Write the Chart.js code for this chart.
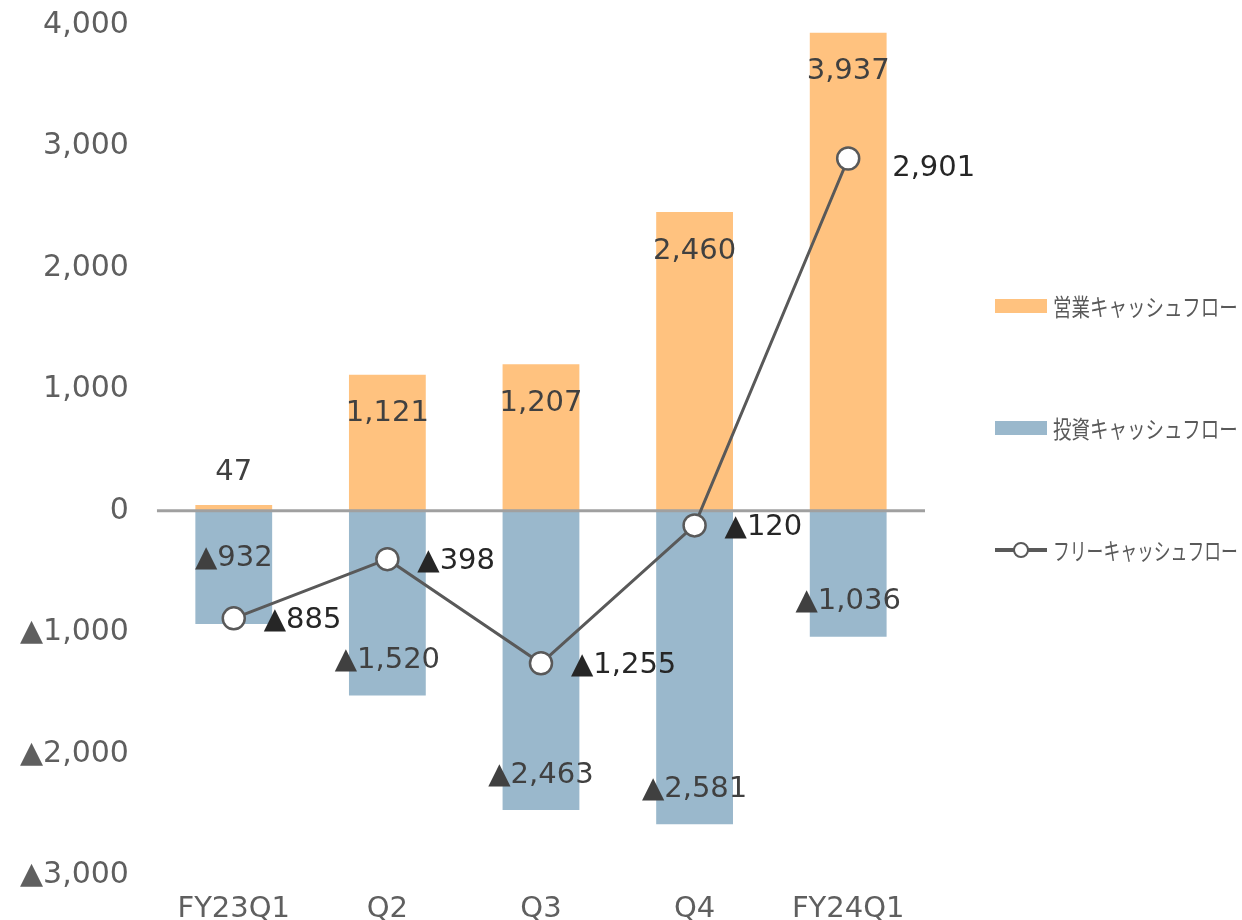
<!DOCTYPE html>
<html>
<head>
<meta charset="utf-8">
<script src="https://cdn.jsdelivr.net/npm/chart.js"></script>
<style>
  body { margin: 0; background: #fff; }
  #wrap { position: relative; width: 1242px; height: 920px; overflow: hidden; }
  #cf { position: absolute; left: 0; top: -13px; }
  .legend { position: absolute; left: 995px; font-family: "Noto Sans CJK JP", sans-serif; font-size: 24px; color: #595959; display: flex; align-items: center; white-space: nowrap; }
  .legend span { display: inline-block; transform: scaleX(0.77); transform-origin: left center; }
  .sw { width: 52px; height: 14px; margin-right: 6px; flex: none; }
  .ln { width: 52px; height: 14px; margin-right: 6px; position: relative; flex: none; }
  .ln:before { content: ""; position: absolute; left: 0; right: 0; top: 5px; height: 4px; background: #595959; }
  .ln:after { content: ""; position: absolute; left: 18px; top: -1px; width: 12px; height: 12px; border: 2.5px solid #595959; border-radius: 50%; background: #fff; }
</style>
</head>
<body>
<div id="wrap">
  <canvas id="cf" width="1242" height="935"></canvas>
  <div class="legend" style="top:288px"><div class="sw" style="background:#ffc27f"></div><span>営業キャッシュフロー</span></div>
  <div class="legend" style="top:410px"><div class="sw" style="background:#9ab8cc"></div><span>投資キャッシュフロー</span></div>
  <div class="legend" style="top:532px"><div class="ln"></div><span style="transform: scaleX(0.7)">フリーキャッシュフロー</span></div>
</div>
<script>
var quarters = ['FY23Q1', 'Q2', 'Q3', 'Q4', 'FY24Q1'];
var operatingCF = [47, 1121, 1207, 2460, 3937];
var investingCF = [-932, -1520, -2463, -2581, -1036];
var freeCF = [-885, -398, -1255, -120, 2901];
var yTicks = [-3000, -2000, -1000, 0, 1000, 2000, 3000, 4000];

function fmt(v) {
  var s = Math.abs(v).toLocaleString('en-US');
  return v < 0 ? '▲' + s : s;
}

var labelFont = '29px "DejaVu Sans", sans-serif';

var cfLabels = {
  id: 'cfLabels',
  beforeDatasetDraw: function (chart, args) {
    // zero line sits on top of the bars, under the line
    if (args.meta.type !== 'line') return;
    var c = chart.ctx, y0 = chart.scales.y.getPixelForValue(0);
    c.save();
    c.strokeStyle = '#a0a0a0';
    c.lineWidth = 3;
    c.beginPath();
    c.moveTo(chart.chartArea.left, y0);
    c.lineTo(chart.chartArea.right, y0);
    c.stroke();
    c.restore();
  },
  afterDatasetsDraw: function (chart) {
    var c = chart.ctx;
    var op = chart.getDatasetMeta(1).data;
    var inv = chart.getDatasetMeta(2).data;
    var pts = chart.getDatasetMeta(0).data;
    c.save();
    c.font = labelFont;
    c.textBaseline = 'middle';

    c.fillStyle = '#404040';
    c.textAlign = 'center';
    op.forEach(function (b, i) {
      var h = b.base - b.y;
      var y = h < 60 ? b.y - 33 : b.y + 39;
      c.fillText(fmt(operatingCF[i]), b.x, y);
    });
    inv.forEach(function (b, i) {
      var y = b.y - 35;
      var py = pts[i].y;
      if (Math.abs(y - py) < 40) y = py - 60;
      c.fillText(fmt(investingCF[i]), b.x, y);
    });

    c.fillStyle = '#262626';
    c.textAlign = 'left';
    pts.forEach(function (p, i) {
      var dx = freeCF[i] < 0 ? 30 : 44;
      var dy = freeCF[i] < 0 ? 2 : 10;
      c.fillText(fmt(freeCF[i]), p.x + dx, p.y + dy);
    });
    c.restore();
  }
};

new Chart(document.getElementById('cf'), {
  type: 'bar',
  data: {
    labels: quarters,
    datasets: [{
      type: 'line',
      label: 'フリーキャッシュフロー',
      data: freeCF,
      order: 0,
      stack: 'fcf',
      borderColor: '#595959',
      borderWidth: 3,
      pointRadius: 11,
      pointBackgroundColor: '#ffffff',
      pointBorderColor: '#595959',
      pointBorderWidth: 2.5,
      tension: 0
    }, {
      label: '営業キャッシュフロー',
      data: operatingCF,
      order: 1,
      stack: 'cf',
      backgroundColor: '#ffc27f'
    }, {
      label: '投資キャッシュフロー',
      data: investingCF,
      order: 2,
      stack: 'cf',
      backgroundColor: '#9ab8cc'
    }]
  },
  options: {
    responsive: false,
    animation: false,
    layout: { padding: { left: 0, right: 317, top: -16, bottom: -25 } },
    datasets: { bar: { categoryPercentage: 0.5, barPercentage: 1 } },
    plugins: { legend: { display: false }, tooltip: { enabled: false } },
    scales: {
      x: {
        stacked: true,
        grid: { display: false },
        border: { display: false },
        ticks: { color: '#5f5f5f', font: { family: 'DejaVu Sans', size: 29 }, padding: 9 },
        afterFit: function (axis) { axis.height += 11; }
      },
      y: {
        stacked: true,
        min: -3000,
        max: 4000,
        afterBuildTicks: function (axis) {
          axis.ticks = yTicks.map(function (v) { return { value: v }; });
        },
        grid: { display: false },
        border: { display: false },
        ticks: {
          color: '#5f5f5f',
          font: { family: 'DejaVu Sans', size: 30 },
          padding: 20,
          callback: function (v) { return fmt(v); }
        }
      }
    }
  },
  plugins: [cfLabels]
});
</script>
</body>
</html>
